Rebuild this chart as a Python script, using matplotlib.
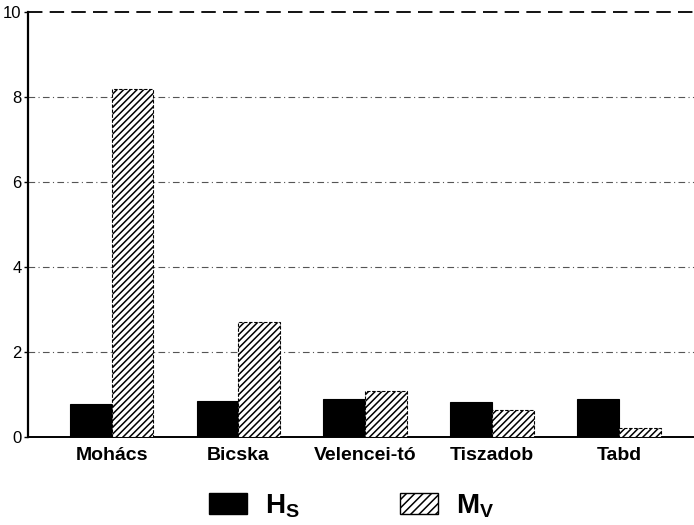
import matplotlib.pyplot as plt
import numpy as np
from matplotlib.patches import Patch

plt.rcParams['font.family'] = ['Liberation Sans', 'DejaVu Sans']
plt.rcParams['hatch.linewidth'] = 1.1

sites = ['Mohács', 'Bicska', 'Velencei-tó', 'Tiszadob', 'Tabd']
hs = [0.77, 0.84, 0.89, 0.81, 0.89]
mv = [8.17, 2.69, 1.08, 0.63, 0.21]
yticks = [0, 2, 4, 6, 8, 10]

fig = plt.figure(figsize=(6.94, 5.25), dpi=100)
ax = fig.add_axes([0.04, 0.168, 0.96, 0.81])

x = np.arange(len(sites))
w = 0.33
ax.bar(x - w / 2, hs, w, color='black', edgecolor='black', linewidth=0.8, zorder=3)
ax.bar(x + w / 2, mv, w, color='white', edgecolor='black', hatch='/////',
       linewidth=0.8, linestyle=(0, (3, 1.5)), zorder=3)

ax.set_xlim(-0.66, 4.59)
ax.set_ylim(0, 10)
ax.set_yticks(yticks)
ax.set_yticklabels([str(v) for v in yticks], fontsize=12)
ax.set_xticks(x)
ax.set_xticklabels(sites, fontsize=14, fontweight='bold')
ax.tick_params(axis='x', length=0, pad=7)
ax.tick_params(axis='y', length=3, width=1, direction='out', pad=1.5)

for v in yticks[1:-1]:
    ax.axhline(v, color='#555555', linewidth=0.8, linestyle=(0, (6, 3, 1, 3)), zorder=1)
ax.axhline(10, color='black', linewidth=1.3, linestyle=(0, (8, 4)), zorder=1, clip_on=False)

for side in ['top', 'right']:
    ax.spines[side].set_visible(False)
ax.spines['left'].set_linewidth(1.6)
ax.spines['bottom'].set_linewidth(1.4)

handles = [Patch(facecolor='black', edgecolor='black'),
           Patch(facecolor='white', edgecolor='black', hatch='////')]
fig.legend(handles, [r'H$_\mathregular{S}$', r'M$_\mathregular{V}$'], loc='center',
           bbox_to_anchor=(0.507, 0.036), ncol=2, frameon=False,
           prop={'weight': 'bold', 'size': 20}, handlelength=1.37, handleheight=0.75,
           columnspacing=3.6, handletextpad=0.65, borderpad=0.1)

fig.savefig('out.png', dpi=100)
